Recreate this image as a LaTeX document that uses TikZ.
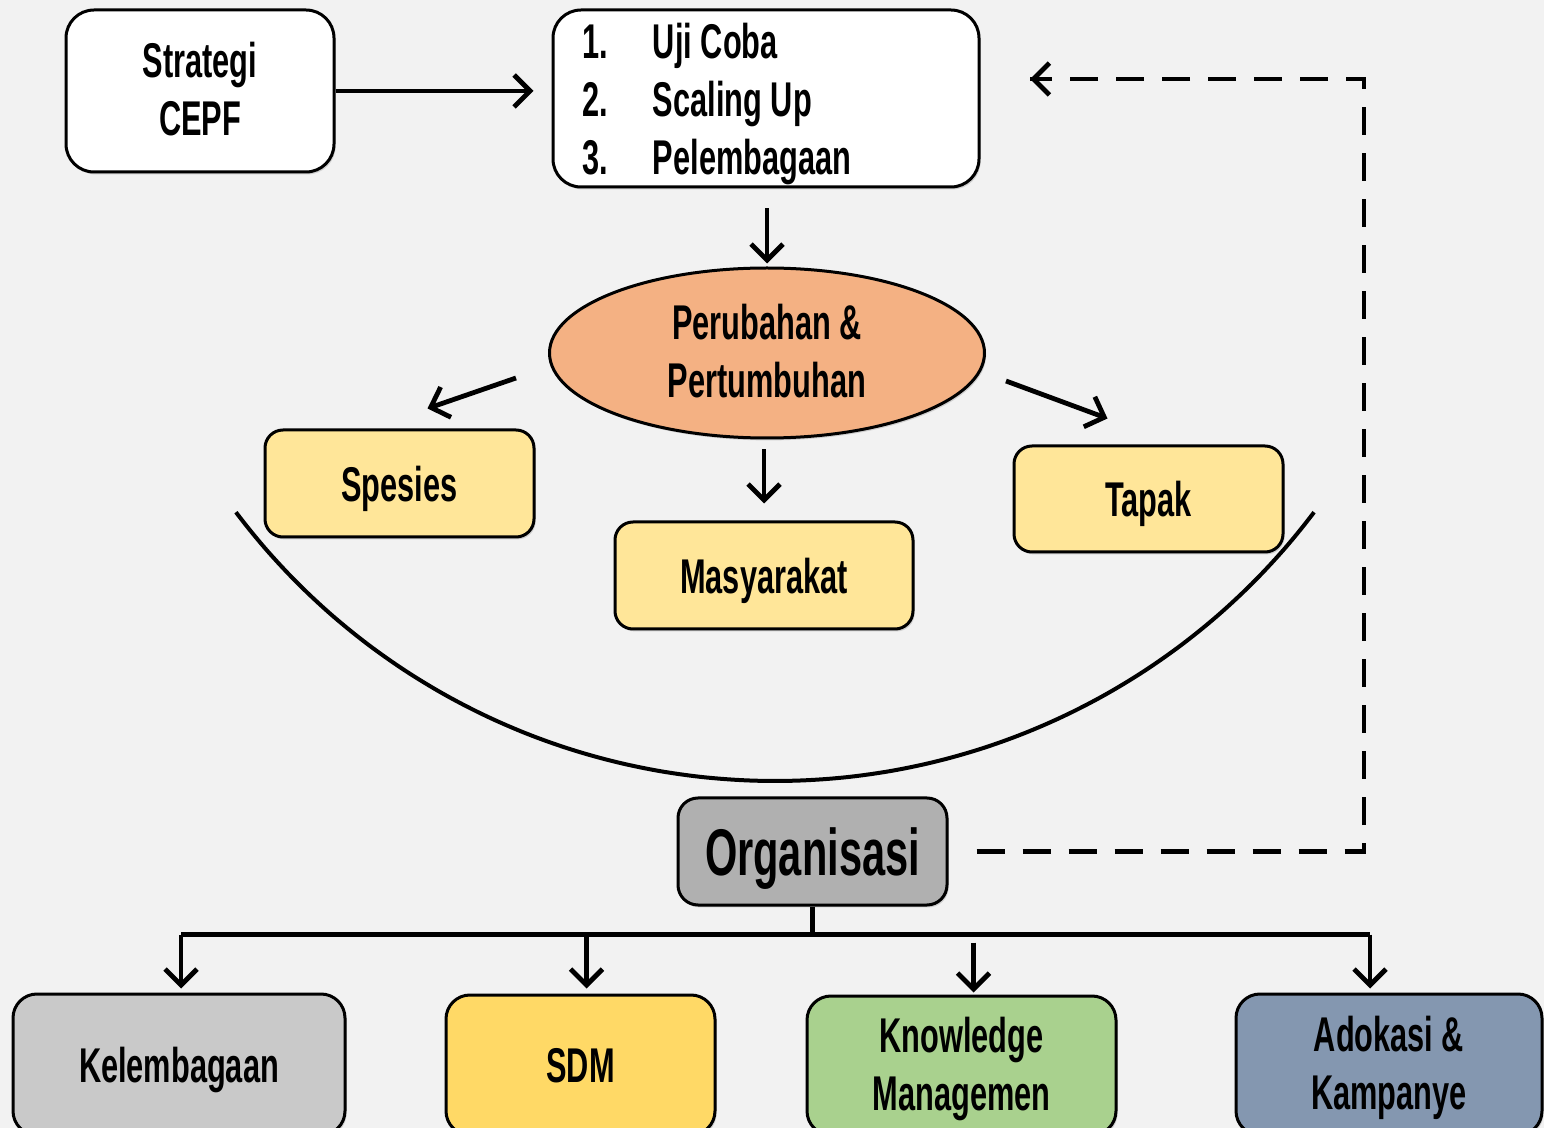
\documentclass[tikz,border=0pt]{standalone}
\usepackage{fontspec}
\newfontfamily\agency[FakeStretch=0.63]{Liberation Sans}
\usetikzlibrary{arrows.meta,calc,shapes.geometric,shadows}
\definecolor{bg}{HTML}{F2F2F2}
\definecolor{orangefill}{HTML}{F4B183}
\definecolor{paleyellow}{HTML}{FFE699}
\definecolor{orggray}{HTML}{B0B0B0}
\definecolor{kelgray}{HTML}{C9C9C9}
\definecolor{sdmyellow}{HTML}{FFD966}
\definecolor{kmgreen}{HTML}{A9D18E}
\definecolor{advblue}{HTML}{8497B0}
\newcommand{\listline}[2]{\makebox[184pt][l]{\makebox[35.5pt][l]{#1}#2}}
\tikzset{
  txt/.style={font=\agency\bfseries\fontsize{24.4}{29}\selectfont, align=center, text=black},
  shad/.style={drop shadow={opacity=0.3, shadow xshift=0.8pt, shadow yshift=-1.2pt}},
  basebox/.style={txt, draw=black, line width=1.5pt, rounded corners=12pt, inner sep=2pt, shad},
  boxnode/.style={basebox, text depth=0pt},
  arr/.style={line width=2.4pt, -{Straight Barb[length=8pt, width=16pt, line width=2.4pt]}},
  plainline/.style={line width=2.4pt},
  dashline/.style={line width=2.4pt, dash pattern=on 14pt off 9pt},
}
\begin{document}
\begin{tikzpicture}[x=0.5pt, y=-0.5pt]
\useasboundingbox[fill=bg] (0,0) rectangle (1544,1128);

% top row
\node[boxnode, fill=white, rounded corners=14pt, minimum width=134pt, minimum height=81pt, text depth=2pt] (strat) at (200,91) {Strategi\\CEPF};
\node[boxnode, fill=white, rounded corners=14pt, minimum width=213pt, minimum height=88.5pt,
      align=left] (list) at (766,98.5)
  {\listline{1.}{Uji Coba}\\\listline{2.}{Scaling Up}\\\listline{3.}{Pelembagaan}};

% ellipse
\node[txt, ellipse, draw=black, line width=1.5pt, fill=orangefill, shad, inner sep=0pt, text depth=2pt,
      minimum width=217.5pt, minimum height=85pt] (ell) at (767,353) {Perubahan \&\\Pertumbuhan};

% yellow boxes
\node[boxnode, fill=paleyellow, rounded corners=9pt, minimum width=134.5pt, minimum height=53.5pt] (sp) at (399.5,483.5) {Spesies};
\node[boxnode, fill=paleyellow, rounded corners=9pt, minimum width=149pt, minimum height=53.5pt] (masy) at (764,575.5) {Masyarakat};
\node[boxnode, fill=paleyellow, rounded corners=9pt, minimum width=134.5pt, minimum height=53pt] (tapak) at (1148.5,499) {Tapak};

% organisasi
\node[boxnode, fill=orggray, rounded corners=10pt, minimum width=134.5pt, minimum height=53.5pt,
      font=\agency\bfseries\fontsize{33}{38}\selectfont] (org) at (812.5,851.5) {Organisasi};

% bottom boxes
\node[boxnode, fill=kelgray, minimum width=166pt, minimum height=70.5pt] (kel) at (179,1064.5) {Kelembagaan};
\node[boxnode, fill=sdmyellow, minimum width=134.5pt, minimum height=70pt] (sdm) at (580.5,1065) {SDM};
\node[boxnode, fill=kmgreen, minimum width=154.5pt, minimum height=69.5pt, text depth=2pt] (km) at (961.5,1065.5) {Knowledge\\Managemen};
\node[boxnode, fill=advblue, minimum width=153pt, minimum height=70.5pt, text depth=2pt] (adv) at (1389,1064.5) {Adokasi \&\\Kampanye};

% arc
\draw[line width=2pt] plot[domain=143:37, samples=80, smooth] ({775+675*cos(\x)},{106+675*sin(\x)});

% arrows top
\draw[arr, shorten >=9pt] (strat.east) -- (list.west |- strat.east);
\draw[arr, shorten <=10pt, shorten >=1.5pt] (list.south -| ell.north) -- (ell.north);
\draw[arr] ($(ell.west)+(-32,25)$) -- ($(sp.north)+(28,-20)$);
\draw[arr] ($(ell.east)+(20,28)$) -- ($(tapak.north)+(-41,-26)$);
\draw[arr, shorten <=5pt, shorten >=8.5pt] (ell.south -| masy.north) -- (masy.north);

% tree
\coordinate (bus) at ($(org.south)+(0,28)$);
\coordinate (kelin) at ($(kel.north)+(2,0)$);
\coordinate (sdmin) at ($(sdm.north)+(6,0)$);
\coordinate (kmin) at ($(km.north)+(12,0)$);
\coordinate (advin) at ($(adv.north)+(-19,0)$);
\draw[plainline] (org.south) -- (bus);
\draw[plainline] (kelin |- bus) -- (advin |- bus);
\draw[arr, shorten >=2pt] (kelin |- bus) -- (kelin);
\draw[arr, shorten >=2.5pt] (sdmin |- bus) -- (sdmin);
\draw[arr, shorten <=4pt, shorten >=1pt] (kmin |- bus) -- (kmin);
\draw[arr, shorten >=2pt] (advin |- bus) -- (advin);

% dashed feedback
\coordinate (dc) at (1364,0);
\coordinate (dend) at (1030,79);
\draw[dashline] ($(org.east)+(28,0)$) -- (dc |- org.east) -- (dc |- dend) -- (dend);
\draw[line width=2.4pt, -{Straight Barb[length=8pt, width=16pt, line width=2.4pt]}] ($(dend)+(16,0)$) -- (dend);
\end{tikzpicture}
\end{document}
